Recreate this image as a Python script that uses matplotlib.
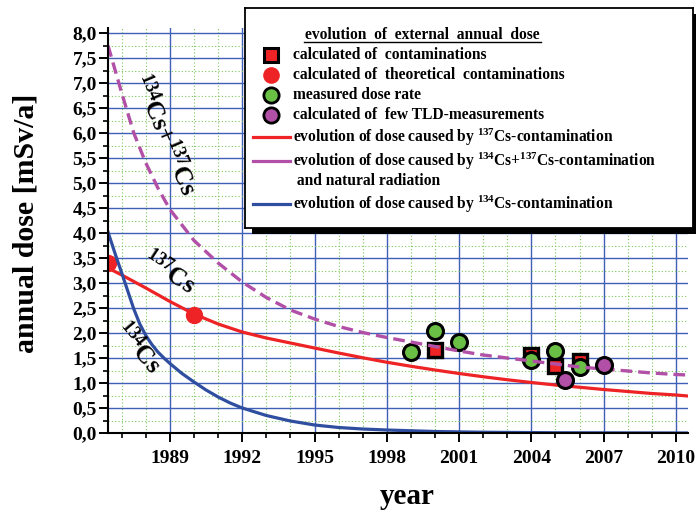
import matplotlib
matplotlib.use("Agg")
import matplotlib.pyplot as plt
from matplotlib.patches import Rectangle
from matplotlib.ticker import FixedLocator, MultipleLocator

plt.rcParams['font.family'] = ['Liberation Serif', 'DejaVu Serif']
plt.rcParams['font.weight'] = 'bold'
plt.rcParams['mathtext.default'] = 'regular'

# ---------------- data ----------------
years_cs137 = [1986.43, 1987, 1988, 1989, 1990, 1991, 1992, 1993, 1994, 1995, 1996, 1997, 1998,
               1999, 2000, 2001, 2002, 2003, 2004, 2005, 2006, 2007, 2008, 2009, 2010, 2010.5]
dose_cs137 = [3.30, 3.16, 2.90, 2.63, 2.38, 2.18, 2.02, 1.90, 1.80, 1.70, 1.60, 1.505, 1.415,
              1.335, 1.26, 1.19, 1.125, 1.065, 1.01, 0.96, 0.915, 0.87, 0.83, 0.79, 0.76, 0.74]

years_total = [1986.43, 1987, 1987.5, 1988, 1988.5, 1989, 1990, 1991, 1992, 1993, 1994, 1995,
               1996, 1997, 1998, 1999, 2000, 2001, 2002, 2003, 2004, 2005, 2006, 2007, 2008,
               2009, 2010, 2010.5]
dose_total = [7.75, 6.80, 6.00, 5.40, 4.90, 4.47, 3.85, 3.40, 3.02, 2.71, 2.46, 2.28,
              2.13, 2.01, 1.91, 1.82, 1.73, 1.64, 1.56, 1.50, 1.44, 1.38, 1.32, 1.28, 1.24,
              1.20, 1.17, 1.16]

years_cs134 = [1986.43, 1986.75, 1987, 1987.25, 1987.5, 1987.75, 1988, 1988.25, 1988.5, 1988.75,
               1989, 1989.5, 1990, 1990.5, 1991, 1991.5, 1992, 1993, 1994,
               1995, 1996, 1997, 1998, 2000, 2002, 2005, 2010.5]
dose_cs134 = [4.02, 3.55, 3.20, 2.84, 2.48, 2.18, 1.95, 1.77, 1.62, 1.50,
              1.39, 1.19, 1.02, 0.86, 0.72, 0.60, 0.50, 0.35, 0.24,
              0.16, 0.11, 0.08, 0.06, 0.03, 0.015, 0.005, 0.0]

contam_years = [2000, 2004, 2005, 2006]
contam_dose = [1.67, 1.56, 1.34, 1.45]

theo_years = [1986.43, 1990]
theo_dose = [3.40, 2.36]

meas_years = [1999, 2000, 2001, 2004, 2005, 2006]
meas_dose = [1.63, 2.05, 1.83, 1.47, 1.64, 1.33]

tld_years = [2005.4, 2007]
tld_dose = [1.07, 1.37]

x_major_ticks = [1989, 1992, 1995, 1998, 2001, 2004, 2007, 2010]
y_major_ticks = [0.0, 0.5, 1.0, 1.5, 2.0, 2.5, 3.0, 3.5, 4.0, 4.5, 5.0, 5.5, 6.0, 6.5, 7.0, 7.5, 8.0]
y_tick_labels = ['0,0', '0,5', '1,0', '1,5', '2,0', '2,5', '3,0', '3,5', '4,0', '4,5', '5,0',
                 '5,5', '6,0', '6,5', '7,0', '7,5', '8,0']

legend_title = 'evolution  of  external  annual  dose'
legend_labels = ['calculated of  contaminations',
                 'calculated of  theoretical  contaminations',
                 'measured dose rate',
                 'calculated of  few TLD-measurements',
                 r'evolution of dose caused by $^{137}$Cs-contamination',
                 r'evolution of dose caused by $^{134}$Cs+$^{137}$Cs-contamination',
                 ' and natural radiation',
                 r'evolution of dose caused by $^{134}$Cs-contamination']

RED = '#ee2326'
MAG = '#b150a6'
BLUE = '#2f4ea0'
GREEN = '#6abf45'

# ---------------- figure ----------------
W, H = 696, 512
fig = plt.figure(figsize=(W / 100, H / 100), dpi=100)
ax = fig.add_axes([108 / W, 1 - 433 / H, (688 - 108) / W, (433 - 28) / H])
ax.set_xlim(1986.43, 2010.5)
ax.set_ylim(0, 8.1)

ax.xaxis.set_major_locator(FixedLocator(x_major_ticks))
ax.xaxis.set_minor_locator(MultipleLocator(1))
ax.set_yticks(y_major_ticks)
ax.set_yticklabels(y_tick_labels)
ax.yaxis.set_minor_locator(MultipleLocator(0.25))

ax.set_axisbelow(True)
ax.grid(which='major', color='#4060b8', lw=1.0)
ax.grid(which='minor', color='#7cc95a', lw=0.8, ls=(0, (1, 2)))

for s in ['top', 'right']:
    ax.spines[s].set_visible(False)
for s in ['left', 'bottom']:
    ax.spines[s].set_linewidth(1.5)
    ax.spines[s].set_zorder(10)

ax.tick_params(which='major', direction='out', length=6.5, width=1.4)
ax.tick_params(which='minor', direction='out', length=3.5, width=1.2)
ax.tick_params(axis='x', which='major', pad=5.5, labelsize=14)
ax.tick_params(axis='y', which='major', pad=1.5, labelsize=14)
for lab in ax.get_xticklabels() + ax.get_yticklabels():
    lab.set_fontweight('bold')

# markers
ax.plot(contam_years, contam_dose, ls='none', marker='s', ms=10.5, mfc=RED, mec='black',
        mew=2.4, zorder=3)
ax.plot(theo_years, theo_dose, ls='none', marker='o', ms=12.5, mfc=RED, mec=RED,
        mew=0, zorder=3)
ax.plot(meas_years, meas_dose, ls='none', marker='o', ms=11.5, mfc=GREEN, mec='black',
        mew=2.2, zorder=4)

# curves
ax.plot(years_cs137, dose_cs137, color=RED, lw=2.3, zorder=5)
ax.plot(years_cs134, dose_cs134, color=BLUE, lw=2.3, zorder=5)
ax.plot(years_total, dose_total, color=MAG, lw=2.4, ls=(0, (3.5, 1.8)), zorder=5)

ax.plot(tld_years, tld_dose, ls='none', marker='o', ms=11.5, mfc=MAG, mec='black',
        mew=2.2, zorder=6)

# curve labels
ax.text(1988.80, 5.96, r'$^{134}$Cs+$^{137}$Cs', rotation=-67, fontsize=18.5,
        fontweight='bold', ha='center', va='center', rotation_mode='anchor', zorder=7)
ax.text(1988.96, 3.22, r'$^{137}$Cs', rotation=-33, fontsize=18.5,
        fontweight='bold', ha='center', va='center', rotation_mode='anchor', zorder=7)
ax.text(1987.67, 1.70, r'$^{134}$Cs', rotation=-50, fontsize=18.5,
        fontweight='bold', ha='center', va='center', rotation_mode='anchor', zorder=7)

# axis labels
fig.text(26 / W, 1 - 223 / H, 'annual dose [mSv/a]', rotation=90, fontsize=21.5,
         fontweight='bold', ha='center', va='center')
fig.text(407 / W, 1 - 496 / H, 'year', fontsize=21, fontweight='bold',
         ha='center', va='center')

# ---------------- legend box ----------------
bx0, by0, bx1, by1 = 245, 8, 693, 228
shadow = Rectangle(((bx0 + 7) / W, 1 - (by1 + 6) / H), (bx1 - bx0) / W, (by1 - by0) / H,
                   transform=fig.transFigure, facecolor='black', edgecolor='none', zorder=1)
fig.add_artist(shadow)
lax = fig.add_axes([bx0 / W, 1 - by1 / H, (bx1 - bx0) / W, (by1 - by0) / H], zorder=2)
lax.set_xlim(bx0, bx1)
lax.set_ylim(by1, by0)
lax.set_xticks([])
lax.set_yticks([])
for s in lax.spines.values():
    s.set_linewidth(1.3)
    s.set_color('black')

LFS = 11.2
lax.text(422.5, 35, legend_title, fontsize=LFS, fontweight='bold', ha='center', va='center')
lax.plot([304, 541], [42, 42], color='black', lw=1.0)

row_y = [55, 75, 95, 115, 137, 161, 181, 204]
text_x = 293
mk_x = 271.5
lax.plot([mk_x], [row_y[0]], marker='s', ms=10, mfc=RED, mec='black', mew=2.2, ls='none')
lax.plot([mk_x], [row_y[1]], marker='o', ms=12, mfc=RED, mec=RED, mew=0, ls='none')
lax.plot([mk_x], [row_y[2]], marker='o', ms=11, mfc=GREEN, mec='black', mew=2.0, ls='none')
lax.plot([mk_x], [row_y[3]], marker='o', ms=11, mfc=MAG, mec='black', mew=2.0, ls='none')
lax.plot([253, 290], [row_y[4], row_y[4]], color=RED, lw=2.3)
lax.plot([253, 290], [row_y[5], row_y[5]], color=MAG, lw=2.3)
lax.plot([253, 290], [row_y[7], row_y[7]], color=BLUE, lw=2.3)

for y, lab in zip(row_y, legend_labels):
    lax.text(text_x, y, lab, fontsize=LFS, fontweight='bold', ha='left', va='center')

fig.savefig('out.png', dpi=100)
